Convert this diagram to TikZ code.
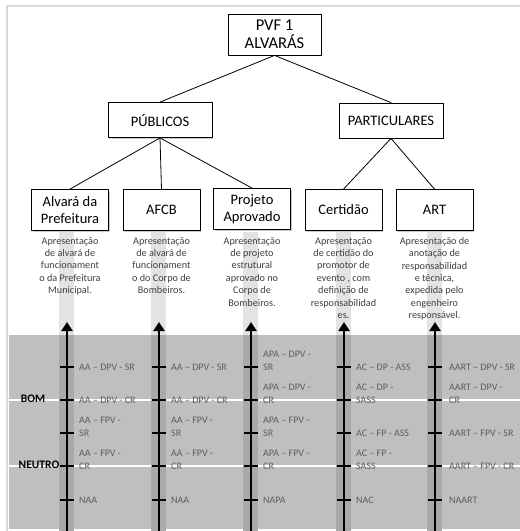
\documentclass[tikz,border=0pt]{standalone}
\usepackage{fontspec}
\setmainfont{Carlito}
\usetikzlibrary{arrows.meta,shadows}

\definecolor{moldura}{HTML}{D9D9D9}
\definecolor{faixa}{HTML}{BFBFBF}
\definecolor{trilho}{HTML}{E3E3E3}
\definecolor{trilhoescuro}{HTML}{A9A9A9}
\definecolor{textocinza}{HTML}{404040}
\definecolor{rotulocinza}{HTML}{5E5E5E}

\begin{document}
\begin{tikzpicture}[x=1pt, y=-1pt, line cap=round, line join=round,
    caixa/.style={draw, line width=0.8pt, fill=white, align=center,
      drop shadow={shadow xshift=1.3pt, shadow yshift=-1.3pt, fill=black!40, opacity=0.5}},
    folha/.style={caixa, minimum width=77pt, minimum height=41pt,
      font=\fontsize{14.5}{17}\selectfont},
    desc/.style={anchor=north, align=center, text=textocinza, inner sep=0pt,
      font=\fontsize{10.2}{12.4}\selectfont},
    rot/.style={anchor=base west, align=left, text=rotulocinza, inner sep=0pt,
      font=\fontsize{10}{13}\selectfont},
    nivel/.style={font=\fontsize{11.5}{13}\selectfont\bfseries, inner sep=0pt}]

  \useasboundingbox (0,0) rectangle (520,531);

  % moldura e faixa da escala
  \draw[moldura, line width=1.6pt] (7,545) -- (7,6) -- (530,6);
  \fill[faixa] (9,335) rectangle (520,529);
  \draw[white, line width=2.6pt] (9,400) -- (520,400);
  \draw[white, line width=2.6pt] (9,466) -- (520,466);

  % hierarquia
  \node[caixa, minimum width=93pt, minimum height=41pt,
    font=\fontsize{16.5}{18}\selectfont] (pvf) at (274.5,34.5) {PVF 1\\ALVARÁS};
  \node[caixa, minimum width=104pt, minimum height=35pt,
    font=\fontsize{14.5}{16}\selectfont] (pub) at (160,120) {PÚBLICOS};
  \node[caixa, minimum width=104pt, minimum height=35pt,
    font=\fontsize{14.5}{16}\selectfont] (part) at (391,120.5) {PARTICULARES};

  \node[folha] (alv) at (70,210) {Alvará da\\Prefeitura};
  \node[folha] (afcb) at (161.5,210) {AFCB};
  \node[folha] (proj) at (252,209) {Projeto\\Aprovado};
  \node[folha] (cert) at (343.5,210) {Certidão};
  \node[folha] (art) at (434.5,210) {ART};

  \draw[line width=0.8pt] (pvf.south) -- (pub.north);
  \draw[line width=0.8pt] (pvf.south) -- (part.north);
  \draw[line width=0.8pt] (pub.south) -- (alv.north);
  \draw[line width=0.8pt] (pub.south) -- (afcb.north);
  \draw[line width=0.8pt] (pub.south) -- (proj.north);
  \draw[line width=0.8pt] (part.south) -- (cert.north);
  \draw[line width=0.8pt] (part.south) -- (art.north);

  % trilhos, setas e marcas
  \foreach \x in {67,159,251,344,435} {
    \fill[trilho] (\x-8,232) rectangle (\x+7,335);
    \fill[trilhoescuro] (\x-8,335) rectangle (\x+7,531);
    \draw[line width=2.8pt, -{Triangle[width=11pt,length=9pt]}] (\x,540) -- (\x,322);
    \foreach \y in {367,400,433,466,500}
      \draw[line width=2.8pt, line cap=butt] (\x-7,\y) -- (\x+7,\y);
  }

  % descricoes
  \node[desc] (dalv) at (alv.south |- 0,237) {Apresentação\\de alvará de\\funcionament\\o da Prefeitura\\Municipal.};
  \node[desc] (dafcb) at (afcb.south |- 0,237) {Apresentação\\de alvará de\\funcionament\\o do Corpo de\\Bombeiros.};
  \node[desc] (dproj) at (proj.south |- 0,237) {Apresentação\\de projeto\\estrutural\\aprovado no\\Corpo de\\Bombeiros.};
  \node[desc] (dcert) at (cert.south |- 0,237) {Apresentação\\de certidão do\\promotor de\\evento , com\\definição de\\responsabilidad\\es.};
  \node[desc] (dart) at (art.south |- 0,237) {Apresentação de\\anotação de\\responsabilidad\\e técnica,\\expedida pelo\\engenheiro\\responsável.};

  % niveis
  \node[nivel] (bom) at (33,399) {BOM};
  \node[nivel] (neutro) at (39,465) {NEUTRO};

  % rotulos das marcas
  \node[rot] (a1) at (79,370.5) {AA – DPV - SR};
  \node[rot] (a2) at (79,403.5) {AA – DPV - CR};
  \node[rot] (a3) at (79,436.5) {AA – FPV -\\SR};
  \node[rot] (a4) at (79,469.5) {AA – FPV -\\CR};
  \node[rot] (a5) at (79,503.5) {NAA};

  \node[rot] (b1) at (171,370.5) {AA – DPV - SR};
  \node[rot] (b2) at (171,403.5) {AA – DPV - CR};
  \node[rot] (b3) at (171,436.5) {AA – FPV -\\SR};
  \node[rot] (b4) at (171,469.5) {AA – FPV -\\CR};
  \node[rot] (b5) at (171,503.5) {NAA};

  \node[rot] (c1) at (263,370.5) {APA – DPV -\\SR};
  \node[rot] (c2) at (263,403.5) {APA – DPV -\\CR};
  \node[rot] (c3) at (263,436.5) {APA – FPV -\\SR};
  \node[rot] (c4) at (263,469.5) {APA – FPV -\\CR};
  \node[rot] (c5) at (263,503.5) {NAPA};

  \node[rot] (d1) at (356,370.5) {AC – DP - ASS};
  \node[rot] (d2) at (356,403.5) {AC – DP -\\SASS};
  \node[rot] (d3) at (356,436.5) {AC – FP - ASS};
  \node[rot] (d4) at (356,469.5) {AC – FP -\\SASS};
  \node[rot] (d5) at (356,503.5) {NAC};

  \node[rot] (e1) at (449,370.5) {AART – DPV - SR};
  \node[rot] (e2) at (449,403.5) {AART – DPV -\\CR};
  \node[rot] (e3) at (449,436.5) {AART – FPV - SR};
  \node[rot] (e4) at (449,469.5) {AART – FPV - CR};
  \node[rot] (e5) at (449,503.5) {NAART};
\end{tikzpicture}
\end{document}
